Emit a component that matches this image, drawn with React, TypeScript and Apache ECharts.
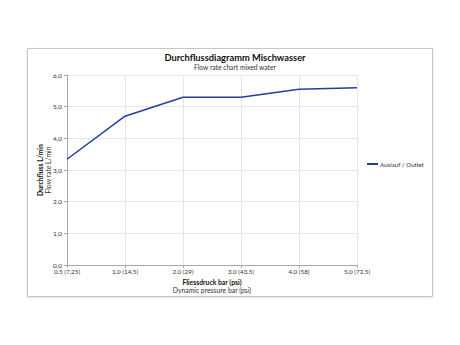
import React, { useEffect, useRef } from "react";
import * as echarts from "echarts";

const categories = ["0.5 (7.25)", "1.0 (14.5)", "2.0 (29)", "3.0 (43.5)", "4.0 (58)", "5.0 (72.5)"];
const outletValues = [3.34, 4.7, 5.3, 5.3, 5.55, 5.6];
const seriesName = "Auslauf / Outlet";
const titleMain = "Durchflussdiagramm Mischwasser";
const titleSub = "Flow rate chart mixed water";
const yNameMain = "Durchfluss L/min";
const yNameSub = "Flow rate L/min";
const xNameMain = "Fliessdruck bar (psi)";
const xNameSub = "Dynamic pressure bar (psi)";

const FONT = "Lato, 'DejaVu Sans Condensed', sans-serif";

export default function App() {
  const ref = useRef<HTMLDivElement>(null);
  useEffect(() => {
    if (!ref.current) return;
    const chart = echarts.init(ref.current, null, { renderer: "svg" });
    chart.setOption({
      animation: false,
      backgroundColor: "#ffffff",
      textStyle: { fontFamily: FONT },
      graphic: [
        {
          type: "rect",
          shape: { x: 27.5, y: 48.5, width: 405, height: 248 },
          style: { fill: "#ffffff", stroke: "#c6c6c6", lineWidth: 1, shadowBlur: 2, shadowColor: "rgba(0,0,0,0.12)", shadowOffsetY: 1 },
          z: -10,
          silent: true,
        },
      ],
      title: {
        text: titleMain,
        subtext: titleSub,
        left: 230,
        textAlign: "center",
        top: 48,
        itemGap: 1,
        textStyle: { fontFamily: FONT, fontSize: 9.3, fontWeight: "bold", color: "#111111" },
        subtextStyle: { fontFamily: FONT, fontSize: 6.7, color: "#333333" },
      },
      legend: {
        left: 362,
        top: 156,
        itemWidth: 11,
        itemHeight: 2,
        itemGap: 2,
        textStyle: { fontFamily: FONT, fontSize: 6.2, color: "#333333", padding: [0, 0, 0, -3] },
        data: [{ name: seriesName, icon: "rect" }],
      },
      grid: { left: 67, right: 103, top: 75, bottom: 80, containLabel: false },
      xAxis: {
        type: "category",
        data: categories,
        boundaryGap: false,
        name: `{b|${xNameMain}}\n{n|${xNameSub}}`,
        nameLocation: "middle",
        nameGap: 13,
        nameMoveOverlap: false,
        nameTextStyle: {
          rich: {
            b: { fontFamily: FONT, fontSize: 6.8, fontWeight: "bold", color: "#111111", lineHeight: 8 },
            n: { fontFamily: FONT, fontSize: 6.8, color: "#333333", lineHeight: 8 },
          },
        },
        axisLine: { lineStyle: { color: "#a8a8a8", width: 1 } },
        axisTick: { show: true, length: 3, lineStyle: { color: "#a8a8a8" } },
        axisLabel: { fontFamily: FONT, fontSize: 6.3, color: "#333333", margin: 3 },
        splitLine: { show: true, lineStyle: { color: "#e6e6e6", width: 1 } },
      },
      yAxis: {
        type: "value",
        min: 0,
        max: 6,
        interval: 1,
        name: `{b|${yNameMain}}\n{n|${yNameSub}}`,
        nameLocation: "middle",
        nameRotate: 90,
        nameGap: 15,
        nameMoveOverlap: false,
        nameTextStyle: {
          rich: {
            b: { fontFamily: FONT, fontSize: 6.8, fontWeight: "bold", color: "#111111", lineHeight: 8 },
            n: { fontFamily: FONT, fontSize: 6.8, color: "#333333", lineHeight: 8 },
          },
        },
        axisLine: { show: true, lineStyle: { color: "#a8a8a8", width: 1 } },
        axisTick: { show: true, length: 3, lineStyle: { color: "#a8a8a8" } },
        axisLabel: {
          fontFamily: FONT,
          fontSize: 6.5,
          color: "#333333",
          margin: 5,
          formatter: (v: number) => v.toFixed(1).replace(".", ","),
        },
        splitLine: { show: true, lineStyle: { color: "#e6e6e6", width: 1 } },
      },
      series: [
        {
          name: seriesName,
          type: "line",
          data: outletValues,
          symbol: "none",
          lineStyle: { color: "#22409a", width: 1.5 },
          itemStyle: { color: "#22409a" },
        },
      ],
    });
    return () => chart.dispose();
  }, []);
  return <div ref={ref} style={{ position: "fixed", left: 0, top: 0, width: 460, height: 345 }} />;
}
